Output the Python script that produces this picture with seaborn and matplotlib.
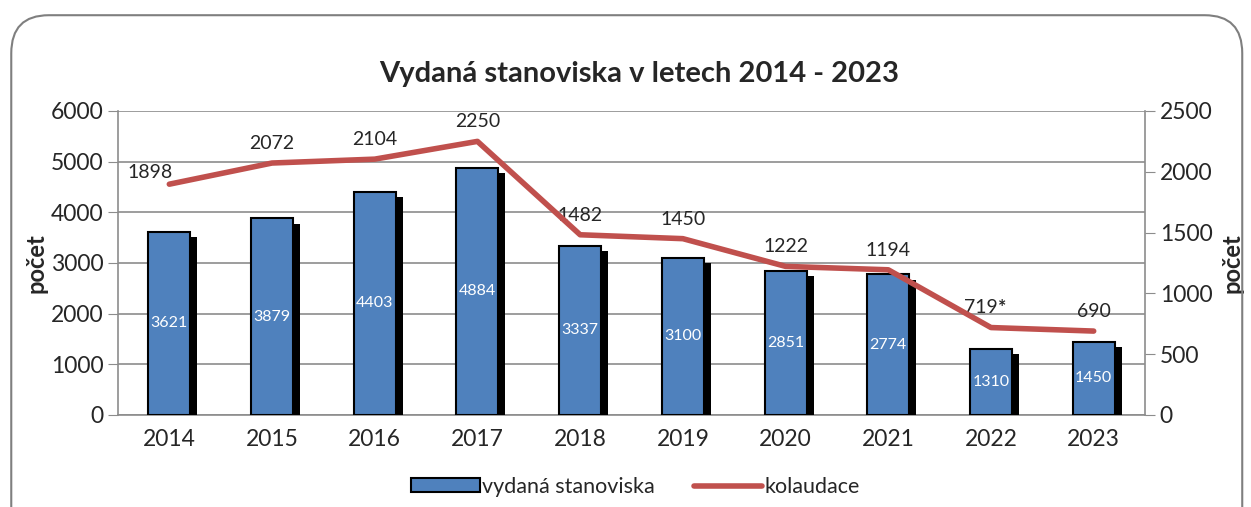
import numpy as np
import pandas as pd
import matplotlib
matplotlib.use("Agg")
import matplotlib.pyplot as plt
import matplotlib.patheffects as pe
from matplotlib.patches import FancyBboxPatch, Patch
from matplotlib.lines import Line2D
import seaborn as sns

# data
years = ["2014", "2015", "2016", "2017", "2018", "2019", "2020", "2021", "2022", "2023"]
stanoviska = [3621, 3879, 4403, 4884, 3337, 3100, 2851, 2774, 1310, 1450]
kolaudace = [1898, 2072, 2104, 2250, 1482, 1450, 1222, 1194, 719, 690]
kolaudace_labels = ["1898", "2072", "2104", "2250", "1482", "1450", "1222", "1194", "719*", "690"]

df = pd.DataFrame({"rok": years, "stanoviska": stanoviska, "kolaudace": kolaudace,
                   "pos": np.arange(len(years))})

sns.set_style("white")
plt.rcParams["font.family"] = ["Lato", "DejaVu Sans"]

blue = "#4F81BD"
red = "#C0504D"
grid_c = "#8C8C8C"

fig = plt.figure(figsize=(12.51, 5.07), dpi=100)
ax = fig.add_axes([0.0943, 0.1815, 0.821, 0.5996])

# rounded frame around the whole chart
frame = FancyBboxPatch((0.009, -0.2), 0.984, 1.17, boxstyle="round,pad=0,rounding_size=0.03",
                       transform=fig.transFigure, facecolor="none", edgecolor="#7F7F7F",
                       linewidth=1.5, mutation_aspect=2.5)
fig.patches.append(frame)

sns.barplot(data=df, x="rok", y="stanoviska", color=blue, width=0.41,
            edgecolor="black", linewidth=1.5, saturation=1, ax=ax, zorder=3)
for bar in ax.patches:
    bar.set_path_effects([pe.SimplePatchShadow(offset=(5, -4), shadow_rgbFace="black", alpha=1),
                          pe.Normal()])

for i, v in enumerate(stanoviska):
    ax.text(i, v / 2, str(v), ha="center", va="center", color="white", fontsize=11.5, zorder=5)

ax.set_ylim(0, 6000)
ax.set_yticks(np.arange(0, 6001, 1000))
ax.set_xlim(-0.5, len(years) - 0.5)
ax.yaxis.grid(True, color=grid_c, linewidth=1.2)
ax.set_axisbelow(True)
ax.set_xlabel("")
ax.set_ylabel("počet", fontsize=17, fontweight="bold", labelpad=2)
ax.tick_params(axis="both", labelsize=16.5, length=7, color=grid_c, direction="out")
ax.tick_params(axis="x", length=0, pad=10)
ax.set_xticks(np.arange(-0.5, len(years), 1), minor=True)
ax.tick_params(axis="x", which="minor", length=7, color=grid_c, direction="out")
for s in ["top", "right"]:
    ax.spines[s].set_visible(False)
for s in ["left", "bottom"]:
    ax.spines[s].set_color(grid_c)
    ax.spines[s].set_linewidth(1.2)

ax2 = ax.twinx()
sns.lineplot(data=df, x="pos", y="kolaudace", color=red, linewidth=4, ax=ax2,
             solid_capstyle="round", zorder=4)
ax2.set_ylim(0, 2500)
ax2.set_yticks(np.arange(0, 2501, 500))
ax2.set_xlim(-0.5, len(years) - 0.5)
ax2.set_ylabel("počet", fontsize=17, fontweight="bold", labelpad=6)
ax2.tick_params(axis="y", labelsize=16.5, length=7, color=grid_c, direction="out")
for s in ["top", "left", "bottom"]:
    ax2.spines[s].set_visible(False)
ax2.spines["right"].set_color(grid_c)
ax2.spines["right"].set_linewidth(1.2)

for i, (v, lab) in enumerate(zip(kolaudace, kolaudace_labels)):
    dx = -14 if i == 0 else 0
    dy = 2 if i == 0 else 8
    if lab.endswith("*"):
        ax2.annotate(lab[:-1], (i, v), xytext=(5, dy), textcoords="offset points",
                     ha="right", va="bottom", fontsize=14)
        ax2.annotate("*", (i, v), xytext=(5, dy), textcoords="offset points",
                     ha="left", va="bottom", fontsize=14, fontweight="bold")
    else:
        ax2.annotate(lab, (i, v), xytext=(dx, dy), textcoords="offset points",
                     ha="center", va="bottom", fontsize=14)

fig.suptitle("Vydaná stanoviska v letech 2014 - 2023", fontsize=21, fontweight="bold",
             x=0.511, y=0.88)

handles = [Patch(facecolor=blue, edgecolor="black", linewidth=1.5, label="vydaná stanoviska"),
           Line2D([0], [0], color=red, linewidth=4, label="kolaudace", solid_capstyle="round")]
fig.legend(handles=handles, loc="center", bbox_to_anchor=(0.508, 0.04), ncol=2, frameon=False,
           fontsize=15.5, handlelength=3.2, handleheight=0.6, handletextpad=0.1,
           columnspacing=1.8)

plt.savefig("out.png", dpi=100)
